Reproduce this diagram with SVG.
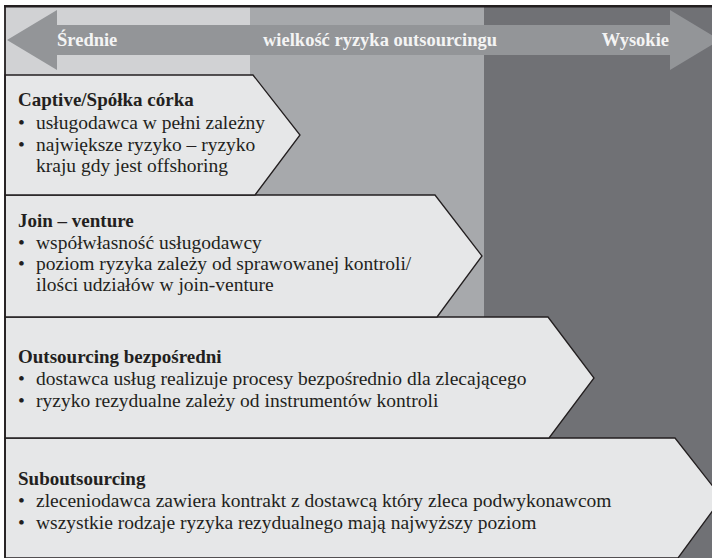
<svg xmlns="http://www.w3.org/2000/svg" width="712" height="558" viewBox="0 0 712 558">
<style>
.col-l{fill:#d1d2d4}
.col-m{fill:#a7a9ac}
.col-d{fill:#707175}
.box{fill:#e6e7e8;stroke:#231f20;stroke-width:1.3;stroke-linejoin:miter}
.t{font-family:"Liberation Serif","Times New Roman",serif;font-weight:bold;font-size:19px;fill:#231f20}
.b{font-family:"Liberation Serif","Times New Roman",serif;font-size:19.5px;fill:#231f20}
.a{font-family:"Liberation Serif","Times New Roman",serif;font-weight:bold;font-size:18.5px;fill:#f4f4f4}
</style>
<rect x="0" y="0" width="712" height="558" fill="#ffffff"/>
<g id="background">
<rect class="col-l" x="5" y="6" width="245" height="552"/>
<rect class="col-m" x="250" y="6" width="234" height="552"/>
<rect class="col-d" x="484" y="6" width="228" height="552"/>
</g>
<g id="scale">
<polygon fill="#939598" points="7,40 57,10 57,25 670,25 670,10 720,40 670,70 670,55 57,55 57,70"/>
<text class="a" x="57" y="46">Średnie</text>
<text class="a" x="263" y="46">wielkość ryzyka outsourcingu</text>
<text class="a" x="669" y="46" text-anchor="end">Wysokie</text>
</g>
<g id="node-suboutsourcing">
<polygon class="box" points="5,438 675,438 722,498 678,558 5,558"/>
<text class="t" x="18" y="485">Suboutsourcing</text>
<text class="b" x="18" y="507">•</text>
<text class="b" x="36" y="507">zleceniodawca zawiera kontrakt z dostawcą który zleca podwykonawcom</text>
<text class="b" x="18" y="529">•</text>
<text class="b" x="36" y="529">wszystkie rodzaje ryzyka rezydualnego mają najwyższy poziom</text>
</g>
<g id="node-outsourcing">
<polygon class="box" points="5,317 548,317 594,378 549,438 5,438"/>
<text class="t" x="18" y="363">Outsourcing bezpośredni</text>
<text class="b" x="18" y="385">•</text>
<text class="b" x="36" y="385">dostawca usług realizuje procesy bezpośrednio dla zlecającego</text>
<text class="b" x="18" y="407">•</text>
<text class="b" x="36" y="407">ryzyko rezydualne zależy od instrumentów kontroli</text>
</g>
<g id="node-joint-venture">
<polygon class="box" points="5,195 435,195 482,256 437,317 5,317"/>
<text class="t" x="18" y="227">Join – venture</text>
<text class="b" x="18" y="249">•</text>
<text class="b" x="36" y="249">współwłasność usługodawcy</text>
<text class="b" x="18" y="270">•</text>
<text class="b" x="36" y="270">poziom ryzyka zależy od sprawowanej kontroli/</text>
<text class="b" x="36" y="291">ilości udziałów w join-venture</text>
</g>
<g id="node-captive">
<polygon class="box" points="5,75 253,75 300,135 255,195 5,195"/>
<text class="t" x="18" y="106">Captive/Spółka córka</text>
<text class="b" x="18" y="129">•</text>
<text class="b" x="36" y="129">usługodawca w pełni zależny</text>
<text class="b" x="18" y="151">•</text>
<text class="b" x="36" y="151">największe ryzyko – ryzyko</text>
<text class="b" x="36" y="172">kraju gdy jest offshoring</text>
</g>
<g id="frame">
<line x1="4" y1="6.2" x2="712" y2="6.2" stroke="#231f20" stroke-width="2.4"/>
<line x1="5" y1="6" x2="5" y2="558" stroke="#231f20" stroke-width="1.8"/>
</g>
</svg>
